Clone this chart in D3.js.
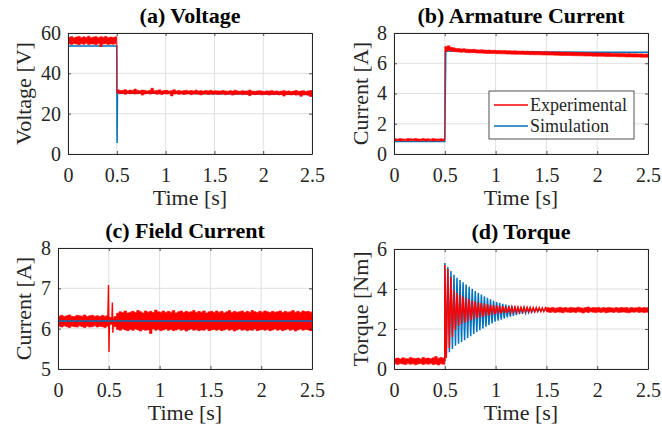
<!DOCTYPE html>
<html><head><meta charset="utf-8">
<script src="https://cdn.jsdelivr.net/npm/d3@7"></script>
<style>body{margin:0;background:#fff}svg{display:block}</style>
</head><body><svg id="chart" width="662" height="430"></svg>
<script>
// ---------- shared ticks ----------
const timeTicks = [0, 0.5, 1, 1.5, 2, 2.5];
const timeTickLabels = ["0", "0.5", "1", "1.5", "2", "2.5"];
const voltTicks = [0, 20, 40, 60];
const armTicks = [0, 2, 4, 6, 8];
const fieldTicks = [5, 6, 7, 8];
const torqueTicks = [0, 2, 4, 6];
const legendLabels = ["Experimental", "Simulation"];

// sample times of the experimental noise band (upper / lower envelope)
const bandTime = [0,0.025,0.05,0.075,0.1,0.125,0.15,0.175,0.2,0.225,0.25,0.275,0.3,0.325,0.35,0.375,0.4,0.425,0.45,0.475,
0.5,0.525,0.55,0.575,0.6,0.625,0.65,0.675,0.7,0.725,0.75,0.775,0.8,0.825,0.85,0.875,0.9,0.925,0.95,0.975,
1,1.025,1.05,1.075,1.1,1.125,1.15,1.175,1.2,1.225,1.25,1.275,1.3,1.325,1.35,1.375,1.4,1.425,1.45,1.475,
1.5,1.525,1.55,1.575,1.6,1.625,1.65,1.675,1.7,1.725,1.75,1.775,1.8,1.825,1.85,1.875,1.9,1.925,1.95,1.975,
2,2.025,2.05,2.075,2.1,2.125,2.15,2.175,2.2,2.225,2.25,2.275,2.3,2.325,2.35,2.375,2.4,2.425,2.45,2.475,2.5];

// ---------- (a) Voltage ----------
const voltExpHi = [57.9,58.2,57.6,58.0,58.3,57.7,58.1,57.8,58.4,57.6,58.0,58.2,57.7,58.1,57.9,58.3,57.6,58.0,57.8,58.1,
31.8,31.5,31.6,31.9,31.4,31.7,31.5,32.2,31.6,31.4,31.7,31.5,31.3,31.6,32.6,31.4,31.5,31.8,31.3,31.5,
31.6,31.2,31.4,31.9,31.3,31.5,31.2,31.4,31.6,31.3,31.5,31.2,31.7,31.3,31.4,31.2,31.5,31.3,31.6,31.2,
31.4,31.3,31.2,31.5,31.3,31.1,31.4,31.2,31.6,31.3,31.1,31.4,31.2,31.3,31.7,31.2,31.1,31.3,31.4,31.2,
31.0,31.3,31.2,31.5,31.1,31.3,31.0,31.2,31.4,31.1,31.3,31.0,31.2,31.5,31.1,31.2,31.4,31.0,31.3,31.5,31.6];
const voltExpLo = [54.6,54.3,54.8,54.5,54.2,54.7,54.4,54.9,54.3,54.6,54.5,54.2,54.8,53.3,54.5,54.7,54.3,54.6,54.4,54.7,
30.2,29.9,30.1,29.6,30.0,29.8,30.1,29.7,29.9,30.0,29.2,29.8,30.0,29.7,29.9,30.1,29.6,29.8,29.5,29.9,
29.7,29.9,28.8,29.7,29.9,29.6,29.8,29.5,29.7,29.9,29.4,29.7,29.8,29.6,29.3,29.7,29.8,29.5,29.7,29.6,
29.8,29.5,29.6,29.8,29.4,29.6,29.7,29.2,29.6,29.5,29.7,29.4,29.6,29.5,28.9,29.6,29.4,29.5,29.6,29.3,
29.5,29.6,29.2,29.5,29.4,29.6,29.3,29.5,28.7,29.4,29.5,29.3,29.5,29.2,29.4,28.6,29.3,29.4,29.1,28.5,28.3];
const voltSimTime = [0, 0.5, 0.503, 0.507, 1, 1.5, 2, 2.5];
const voltSimValue = [53.6, 53.6, 5.5, 30.3, 30.1, 29.9, 29.7, 29.5];

// ---------- (b) Armature current ----------
const armExpHi = [1.01,0.99,1.02,1.00,0.98,1.02,1.01,0.99,1.03,1.00,0.99,1.02,1.00,1.01,0.98,1.02,1.00,0.99,1.01,1.00,
7.10,7.15,7.05,7.02,6.98,6.97,6.95,6.96,6.93,6.92,6.91,6.92,6.89,6.88,6.89,6.87,6.86,6.87,6.85,6.86,
6.84,6.85,6.83,6.84,6.82,6.83,6.81,6.82,6.81,6.80,6.81,6.79,6.80,6.78,6.79,6.78,6.77,6.78,6.76,6.77,
6.76,6.75,6.76,6.74,6.75,6.74,6.73,6.74,6.72,6.73,6.72,6.71,6.72,6.70,6.71,6.70,6.69,6.70,6.68,6.69,
6.68,6.67,6.68,6.66,6.67,6.66,6.65,6.66,6.64,6.65,6.64,6.63,6.64,6.62,6.63,6.62,6.61,6.62,6.60,6.61,6.60];
const armExpLo = [0.87,0.89,0.86,0.88,0.87,0.86,0.89,0.87,0.88,0.86,0.87,0.89,0.86,0.88,0.87,0.86,0.88,0.87,0.86,0.88,
6.78,6.85,6.80,6.78,6.76,6.74,6.73,6.74,6.71,6.70,6.70,6.70,6.68,6.67,6.67,6.66,6.65,6.65,6.64,6.64,
6.63,6.63,6.62,6.62,6.61,6.61,6.60,6.60,6.59,6.59,6.59,6.58,6.58,6.57,6.57,6.56,6.56,6.56,6.55,6.55,
6.54,6.54,6.54,6.53,6.53,6.52,6.52,6.52,6.51,6.51,6.50,6.50,6.50,6.49,6.49,6.48,6.48,6.48,6.47,6.47,
6.46,6.46,6.46,6.45,6.45,6.44,6.44,6.44,6.43,6.43,6.43,6.42,6.42,6.42,6.41,6.41,6.41,6.40,6.40,6.40,6.39];
const armSimTime = [0, 0.5, 0.51, 0.53, 0.7, 1, 1.5, 2, 2.5];
const armSimValue = [0.82, 0.82, 6.75, 6.82, 6.8, 6.77, 6.75, 6.73, 6.72];

// ---------- (c) Field current ----------
const fieldExpHi = [6.31,6.33,6.30,6.32,6.34,6.31,6.30,6.33,6.32,6.31,6.34,6.30,6.32,6.33,6.31,6.32,6.30,6.33,6.31,6.32,
6.28,6.26,6.30,
6.38,6.42,6.40,6.44,6.39,6.41,6.43,6.40,6.45,6.42,6.39,6.44,6.41,6.43,6.40,6.46,6.42,6.41,6.44,6.40,
6.43,6.41,6.45,6.39,6.42,6.44,6.40,6.43,6.41,6.42,6.45,6.40,6.43,6.41,6.44,6.39,6.42,6.43,6.40,6.44,
6.41,6.43,6.39,6.42,6.45,6.40,6.43,6.41,6.42,6.44,6.40,6.43,6.41,6.45,6.42,6.40,6.43,6.41,6.44,6.42,
6.40,6.43,6.41,6.42,6.44,6.40,6.43,6.41,6.42,6.45,6.41,6.43,6.40,6.44,6.42,6.43,6.41,6.42];
const fieldExpLo = [6.06,6.04,6.07,6.05,6.03,6.06,6.05,6.04,6.07,6.05,6.03,6.06,6.04,6.05,6.07,6.04,6.06,6.05,6.03,6.06,
6.10,6.12,6.05,
5.98,5.96,5.99,5.97,5.95,5.98,5.96,5.99,5.97,5.94,5.98,5.96,5.97,5.88,5.99,5.96,5.98,5.95,5.97,5.99,
5.96,5.98,5.95,5.97,5.99,5.96,5.98,5.94,5.97,5.99,5.96,5.98,5.95,5.97,5.96,5.99,5.95,5.97,5.98,5.96,
5.98,5.95,5.97,5.99,5.96,5.98,5.94,5.97,5.99,5.96,5.98,5.95,5.97,5.96,5.99,5.95,5.97,5.98,5.96,5.98,
5.95,5.97,5.99,5.96,5.98,5.95,5.97,5.99,5.96,5.98,5.94,5.97,5.99,5.96,5.98,5.97,5.95,5.98];
const fieldSpikeTime = [0.49, 0.497, 0.502, 0.507, 0.53, 0.535, 0.54, 0.545];
const fieldSpikeValue = [6.2, 7.08, 5.42, 6.25, 6.15, 6.65, 5.9, 6.2];
const fieldSimTime = [0, 2.5];
const fieldSimValue = [6.19, 6.19];

// ---------- (d) Torque ----------
const torqueExpHi = [0.52,0.55,0.50,0.56,0.53,0.51,0.57,0.54,0.52,0.55,0.50,0.58,0.53,0.55,0.51,0.56,0.62,0.54,0.57,0.55,
0.55,null,null,null,null,null,null,null,null,null,null,null,null,null,null,null,null,null,null,null,
null,null,null,null,null,null,null,null,null,null,null,null,null,null,null,null,null,null,null,null,
3.07,3.05,3.08,3.04,3.06,3.09,3.05,3.07,3.04,3.08,3.06,3.05,3.09,3.06,3.04,3.07,3.10,3.05,3.07,3.06,
3.08,3.04,3.07,3.05,3.08,3.06,3.04,3.07,3.05,3.08,3.06,3.07,3.04,3.08,3.05,3.06,3.09,3.05,3.07,3.06,3.08];
const torqueExpLo = [0.26,0.23,0.28,0.25,0.22,0.27,0.24,0.26,0.21,0.25,0.28,0.23,0.26,0.24,0.27,0.22,0.25,0.20,0.26,0.24,
0.24,null,null,null,null,null,null,null,null,null,null,null,null,null,null,null,null,null,null,null,
null,null,null,null,null,null,null,null,null,null,null,null,null,null,null,null,null,null,null,null,
2.85,2.83,2.86,2.82,2.85,2.84,2.81,2.86,2.84,2.83,2.85,2.82,2.86,2.84,2.80,2.85,2.83,2.86,2.84,2.82,
2.85,2.83,2.86,2.81,2.84,2.85,2.83,2.86,2.82,2.84,2.85,2.83,2.81,2.85,2.84,2.86,2.83,2.85,2.82,2.84,2.85];
// oscillation after the load step (peaks and troughs)
const torqueOscTime = [0.500,0.515,0.530,0.545,0.560,0.575,0.590,0.605,0.620,0.635,0.650,0.665,0.680,0.695,0.710,0.725,0.740,0.755,0.770,0.785,
0.800,0.815,0.830,0.845,0.860,0.875,0.890,0.905,0.920,0.935,0.950,0.965,0.980,0.995,1.010,1.025,1.040,1.055,1.070,1.085,
1.100,1.115,1.130,1.145,1.160,1.175,1.190,1.205,1.220,1.235,1.250,1.265,1.280,1.295,1.310,1.325,1.340,1.355,1.370,1.385,
1.400,1.415,1.430,1.445,1.460,1.475,1.490];
const torqueSimOsc = [5.30,0.68,5.10,0.84,4.90,1.00,4.71,1.16,4.56,1.26,4.45,1.35,4.34,1.44,4.23,1.55,4.11,1.64,4.01,1.75,
3.90,1.85,3.81,1.94,3.72,2.03,3.63,2.11,3.56,2.20,3.48,2.28,3.41,2.36,3.35,2.41,3.31,2.47,3.26,2.53,
3.22,2.58,3.18,2.62,3.16,2.66,3.14,2.70,3.11,2.74,3.09,2.76,3.07,2.79,3.05,2.82,3.03,2.85,3.02,2.86,
3.01,2.88,3.00,2.90,2.99,2.91,2.98];
const torqueExpOsc = [5.20,0.55,5.00,1.05,4.60,1.60,3.95,1.95,3.80,2.15,3.70,2.25,3.62,2.32,3.55,2.38,3.48,2.43,3.42,2.49,
3.38,2.54,3.34,2.58,3.30,2.62,3.27,2.65,3.24,2.68,3.22,2.71,3.20,2.74,3.18,2.76,3.16,2.78,3.14,2.80,
3.13,2.81,3.12,2.82,3.11,2.83,3.10,2.84,3.10,2.84,3.09,2.85,3.09,2.85,3.08,2.86,3.08,2.86,3.07,2.86,
3.07,2.87,3.07,2.87,3.06,2.87,3.06];
const torquePreLevel = 0.4;
const torqueSteady = 2.95;

// ---------- drawing ----------
const svg = d3.select('#chart');
const FONT = '"Liberation Serif","Times New Roman",Times,serif';
const RED = '#ff0000', BLUE = '#0072bd', AX = '#262626', GRID = '#e0e0e0';
const zip = (a, b) => a.map((v, i) => [v, b[i]]);

const torqueSimPts = [[0, torquePreLevel], [0.5, torquePreLevel]]
  .concat(zip(torqueOscTime, torqueSimOsc))
  .concat([[1.5, torqueSteady], [2.5, torqueSteady]]);
const torqueExpPts = [[0.5, torquePreLevel]].concat(zip(torqueOscTime, torqueExpOsc)).concat([[1.5, torqueSteady]]);

const panels = [
  {id:'a', title:'(a) Voltage', ylabel:'Voltage [V]', ydom:[0,60], yticks:voltTicks, box:[68,312,33,154], ylabX:31,
   hi:voltExpHi, lo:voltExpLo, sim:zip(voltSimTime, voltSimValue), simOnTop:false},
  {id:'b', title:'(b) Armature Current', ylabel:'Current [A]', ydom:[0,8], yticks:armTicks, box:[394,648,33,154], ylabX:368,
   hi:armExpHi, lo:armExpLo, sim:zip(armSimTime, armSimValue), simOnTop:false, legend:true},
  {id:'c', title:'(c) Field Current', ylabel:'Current [A]', ydom:[5,8], yticks:fieldTicks, box:[58,312,248,369], ylabX:31,
   hi:fieldExpHi, lo:fieldExpLo, sim:zip(fieldSimTime, fieldSimValue), simOnTop:true, extra:zip(fieldSpikeTime, fieldSpikeValue)},
  {id:'d', title:'(d) Torque', ylabel:'Torque [Nm]', ydom:[0,6], yticks:torqueTicks, box:[394,648,249,369], ylabX:368,
   hi:torqueExpHi, lo:torqueExpLo, sim:torqueSimPts, simOnTop:false, extra:torqueExpPts}
];

function styleAxis(sel, withText) {
  sel.attr('font-family', FONT).attr('font-size', 20);
  sel.select('.domain').attr('stroke', AX).attr('stroke-width', 1);
  sel.selectAll('.tick line').attr('stroke', AX).attr('stroke-width', 0.8);
  sel.selectAll('.tick text').attr('fill', AX).attr('font-family', FONT);
  if (!withText) sel.selectAll('.tick text').remove();
}

panels.forEach(p => {
  const [x0, x1, y0, y1] = p.box;
  const x = d3.scaleLinear().domain([0, 2.5]).range([x0, x1]);
  const y = d3.scaleLinear().domain(p.ydom).range([y1, y0]);
  const g = svg.append('g');

  // grid
  g.selectAll(null).data(timeTicks).join('line')
    .attr('x1', d => x(d)).attr('x2', d => x(d)).attr('y1', y0).attr('y2', y1)
    .attr('stroke', GRID).attr('stroke-width', 1);
  g.selectAll(null).data(p.yticks).join('line')
    .attr('y1', d => y(d)).attr('y2', d => y(d)).attr('x1', x0).attr('x2', x1)
    .attr('stroke', GRID).attr('stroke-width', 1);

  const clipId = 'clip-' + p.id;
  svg.append('clipPath').attr('id', clipId).append('rect')
    .attr('x', x0).attr('y', y0).attr('width', x1 - x0).attr('height', y1 - y0);
  const plot = g.append('g').attr('clip-path', `url(#${clipId})`);

  const band = d3.area()
    .defined((d, i) => p.hi[i] !== null)
    .x((d, i) => x(bandTime[i])).y0((d, i) => y(p.lo[i])).y1((d, i) => y(p.hi[i]))
    .curve(d3.curveStepAfter);
  const line = d3.line().x(d => x(d[0])).y(d => y(d[1]));

  const drawSim = () => plot.append('path').attr('d', line(p.sim))
    .attr('fill', 'none').attr('stroke', BLUE).attr('stroke-width', 1.5);
  const drawExp = () => {
    plot.append('path').attr('d', band(bandTime))
      .attr('fill', RED).attr('stroke', RED).attr('stroke-width', 0.6);
    if (p.extra) plot.append('path').attr('d', line(p.extra))
      .attr('fill', 'none').attr('stroke', RED).attr('stroke-width', 1.4);
  };
  if (p.simOnTop) { drawExp(); drawSim(); } else { drawSim(); drawExp(); }

  // axes (inward ticks, box)
  g.append('g').attr('transform', `translate(0,${y1})`)
    .call(d3.axisBottom(x).tickValues(timeTicks).tickFormat((d, i) => timeTickLabels[i])
      .tickSizeInner(-3).tickSizeOuter(0).tickPadding(14))
    .call(s => styleAxis(s, true));
  g.append('g').attr('transform', `translate(0,${y0})`)
    .call(d3.axisTop(x).tickValues(timeTicks).tickSizeInner(-3).tickSizeOuter(0))
    .call(s => styleAxis(s, false));
  g.append('g').attr('transform', `translate(${x0},0)`)
    .call(d3.axisLeft(y).tickValues(p.yticks).tickFormat(d3.format('d'))
      .tickSizeInner(-3).tickSizeOuter(0).tickPadding(7))
    .call(s => styleAxis(s, true));
  g.append('g').attr('transform', `translate(${x1},0)`)
    .call(d3.axisRight(y).tickValues(p.yticks).tickSizeInner(-3).tickSizeOuter(0))
    .call(s => styleAxis(s, false));

  // texts
  g.append('text').text(p.title)
    .attr('x', (x0 + x1) / 2).attr('y', y0 - 10).attr('text-anchor', 'middle')
    .attr('font-family', FONT).attr('font-size', 22).attr('font-weight', 'bold').attr('fill', '#000');
  g.append('text').text('Time [s]')
    .attr('x', (x0 + x1) / 2).attr('y', y1 + 51).attr('text-anchor', 'middle')
    .attr('font-family', FONT).attr('font-size', 22).attr('fill', AX);
  g.append('text').text(p.ylabel)
    .attr('transform', `translate(${p.ylabX},${(y0 + y1) / 2}) rotate(-90)`).attr('text-anchor', 'middle')
    .attr('font-family', FONT).attr('font-size', 22).attr('fill', AX);

  if (p.legend) {
    const lg = g.append('g');
    lg.append('rect').attr('x', 489).attr('y', 91).attr('width', 145).attr('height', 48)
      .attr('fill', '#fff').attr('stroke', AX).attr('stroke-width', 0.8);
    const cols = [RED, BLUE];
    lg.selectAll(null).data(legendLabels).join('line')
      .attr('x1', 494).attr('x2', 528).attr('y1', (d, i) => 105 + i * 21).attr('y2', (d, i) => 105 + i * 21)
      .attr('stroke', (d, i) => cols[i]).attr('stroke-width', 1.5);
    lg.selectAll(null).data(legendLabels).join('text').text(d => d)
      .attr('x', 530).attr('y', (d, i) => 111 + i * 21)
      .attr('font-family', FONT).attr('font-size', 18).attr('fill', AX);
  }
});
</script>
</body></html>
